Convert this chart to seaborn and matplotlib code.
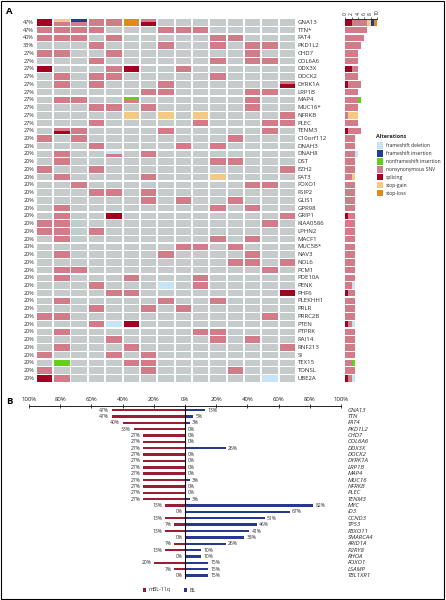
import numpy as np
import matplotlib
matplotlib.use("Agg")
import matplotlib.pyplot as plt
import seaborn as sns
from matplotlib.patches import Rectangle

# ---------------- Panel A data ----------------
genes = ["GNA13", "TTN*", "FAT4", "PKD1L2", "CHD7", "COL6A6", "DDX3X", "DOCK2",
         "DYRK1A", "LRP1B", "MAP4", "MUC16*", "NFRKB", "PLEC", "TENM3",
         "C10orf112", "DNAH3", "DNAH8", "DST", "EZH2", "FAT3", "FOXO1", "FSIP2",
         "GLIS1", "GPR98", "GRIP1", "KIAA0586", "LPHN2", "MACF1", "MUC5B*",
         "NAV3", "NOL6", "PCM1", "PDE10A", "PENK", "PHF6", "PLEKHH1", "PRLR",
         "PRRC2B", "PTEN", "PTPRK", "RAI14", "RNF213", "SI", "TEX15", "TONSL",
         "UBE2A"]
n_samples = 15

# sample indices (0-14) carrying each alteration type, per gene
nonsyn = {
    "GNA13": [1, 2, 3, 4, 6], "TTN*": [0, 1, 2, 3, 7, 8, 9],
    "FAT4": [0, 1, 2, 4, 10, 11], "PKD1L2": [3, 7, 10, 12, 13],
    "CHD7": [0, 1, 4, 12], "COL6A6": [3, 10, 12, 13], "DDX3X": [4, 8],
    "DOCK2": [1, 3, 4, 10], "DYRK1A": [1, 3, 7, 14], "LRP1B": [6, 7, 12, 13],
    "MAP4": [1, 2, 5, 12], "MUC16*": [3, 4, 6, 12], "NFRKB": [14],
    "PLEC": [3, 9, 13, 14], "TENM3": [1, 2, 7, 13], "C10orf112": [0, 2, 11],
    "DNAH3": [3, 8, 10], "DNAH8": [1, 4, 6], "DST": [1, 10, 11],
    "EZH2": [0, 3, 14], "FAT3": [1, 6], "FOXO1": [2, 12, 13],
    "FSIP2": [3, 4, 6], "GLIS1": [6, 8, 11], "GPR98": [1, 10, 12],
    "GRIP1": [1, 14], "KIAA0586": [0, 1, 13], "LPHN2": [0, 1, 3],
    "MACF1": [1, 10, 12], "MUC5B*": [8, 9, 11], "NAV3": [1, 7, 12],
    "NOL6": [11, 12, 14], "PCM1": [1, 2, 13], "PDE10A": [1, 5, 9],
    "PENK": [3, 9], "PHF6": [4, 5], "PLEKHH1": [1, 7, 10], "PRLR": [3, 6, 8],
    "PRRC2B": [0, 1, 13], "PTEN": [3], "PTPRK": [1, 9, 10],
    "RAI14": [4, 10, 12], "RNF213": [1, 5, 14], "SI": [0, 4, 6],
    "TEX15": [5, 6], "TONSL": [0, 6, 11], "UBE2A": [1],
}
splicing = {"GNA13": [0, 6], "DDX3X": [0, 5], "DYRK1A": [14], "TENM3": [1],
            "GRIP1": [4], "PHF6": [14], "PTEN": [5], "UBE2A": [0]}
fs_deletion = {"DNAH8": [4], "PENK": [7], "PTEN": [4], "UBE2A": [13]}
fs_insertion = {"GNA13": [2]}
nonfs_insertion = {"MAP4": [5], "TEX15": [1]}
stop_gain = {"GNA13": [1], "NFRKB": [5, 7, 9], "FAT3": [10]}
stop_loss = {"GNA13": [5]}

alt_names = ["frameshift deletion", "frameshift insertion", "nonframeshift insertion",
             "nonsynonymous SNV", "splicing", "stop-gain", "stop-loss"]
alt_data = [fs_deletion, fs_insertion, nonfs_insertion, nonsyn, splicing,
            stop_gain, stop_loss]
alt_colors = ["#C6E4F6", "#1F3B9B", "#62CF1D", "#D27C89", "#A30022", "#F3C985", "#E3891A"]
count_ticks = [0, 2, 4, 6, 8, 10]

# ---------------- Panel B data ----------------
b_genes = ["GNA13", "TTN", "FAT4", "PKD1L2", "CHD7", "COL6A6", "DDX3X", "DOCK2",
           "DYRK1A", "LRP1B", "MAP4", "MUC16", "NFRKB", "PLEC", "TENM3", "MYC",
           "ID3", "CCND3", "TP53", "FBXO11", "SMARCA4", "ARID1A", "P2RY8", "RHOA",
           "FOXO1", "LSAMP", "TBL1XR1"]
b_mbl = [47, 47, 40, 33, 27, 27, 27, 27, 27, 27, 27, 27, 27, 27, 27,
         13, 0, 13, 7, 13, 0, 7, 13, 0, 20, 7, 0]
b_bl = [13, 5, 3, 0, 0, 0, 26, 0, 0, 0, 0, 3, 0, 0, 3,
        82, 67, 51, 46, 41, 38, 26, 10, 10, 15, 15, 15]
b_ticks = [-100, -80, -60, -40, -20, 0, 20, 40, 60, 80, 100]
b_tick_labels = ["100%", "80%", "60%", "40%", "20%", "0%", "20%", "40%", "60%", "80%", "100%"]
b_series = ["mBL-11q", "BL"]

# ---------------- Style ----------------
W, H = 446, 600
sns.set_theme(style="white")
plt.rcParams["font.family"] = ["Open Sans", "DejaVu Sans"]
TXT = "#2a2a2a"
GRAY = "#C5CBCB"
RED_B = "#9A1E33"
BLUE_B = "#27398E"

fig = plt.figure(figsize=(W / 100, H / 100), dpi=100)
fig.patch.set_facecolor("white")


def ax_px(x0, y0, x1, y1):
    return fig.add_axes([x0 / W, 1 - y1 / H, (x1 - x0) / W, (y1 - y0) / H])


def fx(x):
    return x / W


def fy(y):
    return 1 - y / H


# ---------------- Panel A: oncoprint grid ----------------
axA = ax_px(35.8, 18.6, 296.1, 382.2)
axA.set_xlim(-0.5, n_samples - 0.5)
axA.set_ylim(len(genes) - 0.5, -0.5)
axA.axis("off")

cell_order = [0, 1, 2, 5, 6, 3, 4]  # top-to-bottom order inside a split cell
cw, ch = 0.89, 0.84
for i, g in enumerate(genes):
    mutated = set()
    for j in range(n_samples):
        present = [k for k in cell_order if j in alt_data[k].get(g, [])]
        if present:
            mutated.add(j)
        if not present:
            axA.bar(j, ch, bottom=i - ch / 2, width=cw, color=GRAY, linewidth=0)
        else:
            seg = ch / len(present)
            for m, k in enumerate(present):
                axA.bar(j, seg, bottom=i - ch / 2 + m * seg, width=cw,
                        color=alt_colors[k], linewidth=0)
    pct = int(round(100 * len(mutated) / n_samples))
    axA.text(-0.6, i, f"{pct}%", ha="right", va="center", fontsize=4.0, color=TXT)
    axA.text(14.6, i, g, ha="left", va="center", fontsize=4.3, color=TXT)

# ---------------- Panel A: counts bar ----------------
axR = ax_px(345.3, 18.6, 377.0, 382.2)
axR.set_xlim(0, 10)
axR.set_ylim(len(genes) - 0.5, -0.5)
bar_order = [4, 3, 0, 2, 5, 1, 6]
for i, g in enumerate(genes):
    left = 0
    for k in bar_order:
        c = len(alt_data[k].get(g, []))
        if c:
            axR.barh(i, c, left=left, height=0.84, color=alt_colors[k], linewidth=0)
            left += c
for s in ["left", "right", "bottom"]:
    axR.spines[s].set_visible(False)
axR.spines["top"].set_linewidth(0.6)
axR.spines["top"].set_color("#222222")
axR.xaxis.set_ticks_position("top")
axR.set_xticks(count_ticks)
axR.set_xticklabels([str(t) for t in count_ticks], rotation=90, fontsize=3.6, color=TXT)
axR.tick_params(axis="x", direction="out", length=1.5, width=0.5, pad=1, colors="#222222")
axR.set_yticks([])
axR.set_facecolor("none")

# Legend of alterations
fig.text(fx(376.5), fy(137.0), "Alterations", fontsize=4.0, fontweight="bold",
         color=TXT, ha="left", va="center")
for k, name in enumerate(alt_names):
    yc = 145.6 + k * 7.9
    fig.add_artist(Rectangle((fx(377.0), fy(yc + 3.2)), 6.2 / W, 6.4 / H,
                             transform=fig.transFigure, color=alt_colors[k], lw=0))
    fig.text(fx(385.5), fy(yc), name, fontsize=3.65, color=TXT, ha="left", va="center")

# ---------------- Panel B ----------------
axB = ax_px(29.0, 406.2, 341.0, 579.4)
sns.barplot(x=[-v for v in b_mbl], y=b_genes, orient="h", color=RED_B,
            width=0.38, saturation=1, ax=axB, linewidth=0)
sns.barplot(x=b_bl, y=b_genes, orient="h", color=BLUE_B,
            width=0.38, saturation=1, ax=axB, linewidth=0)
axB.set_xlim(-100, 100)
axB.set_ylim(len(b_genes) - 0.4, -0.6)
axB.set_ylabel("")
axB.set_xlabel("")
axB.set_yticks([])
for s in ["left", "right", "bottom"]:
    axB.spines[s].set_visible(False)
axB.spines["top"].set_linewidth(0.7)
axB.spines["top"].set_color("#222222")
axB.xaxis.set_ticks_position("top")
axB.set_xticks(b_ticks)
axB.set_xticklabels(b_tick_labels, fontsize=4.3, color=TXT)
axB.tick_params(axis="x", direction="inout", length=2.5, width=0.6, pad=1.5, colors="#222222")
axB.axvline(0, color="black", lw=0.8, ymin=0.0, ymax=1.0)
axB.set_facecolor("none")

for i, (g, r, b) in enumerate(zip(b_genes, b_mbl, b_bl)):
    axB.text(-r - 1.6, i, f"{r}%", ha="right", va="center", fontsize=3.6, color=TXT)
    axB.text(b + 1.6, i, f"{b}%", ha="left", va="center", fontsize=3.6, color=TXT)
    axB.text(104.3, i, g, ha="left", va="center", fontsize=4.4, color=TXT,
             style="italic", clip_on=False)

# Panel B legend
for (xs, lab, col) in [(142.5, b_series[0], RED_B), (183.5, b_series[1], BLUE_B)]:
    fig.add_artist(Rectangle((fx(xs), fy(591.5)), 3.2 / W, 3.2 / H,
                             transform=fig.transFigure, color=col, lw=0))
    fig.text(fx(xs + 6), fy(590.0), lab, fontsize=3.8, color=TXT, ha="left", va="center")

# Panel letters
fig.text(fx(6.5), fy(12.0), "A", fontsize=6.8, fontweight="bold", color="black",
         ha="left", va="center")
fig.text(fx(6.5), fy(401.5), "B", fontsize=6.8, fontweight="bold", color="black",
         ha="left", va="center")

# Outer frame
fig.add_artist(Rectangle((fx(0.8), fy(598.5)), 443.5 / W, 597.7 / H,
                         transform=fig.transFigure, fill=False, lw=0.8, ec="black"))

fig.savefig("out.png", dpi=100, facecolor="white")
